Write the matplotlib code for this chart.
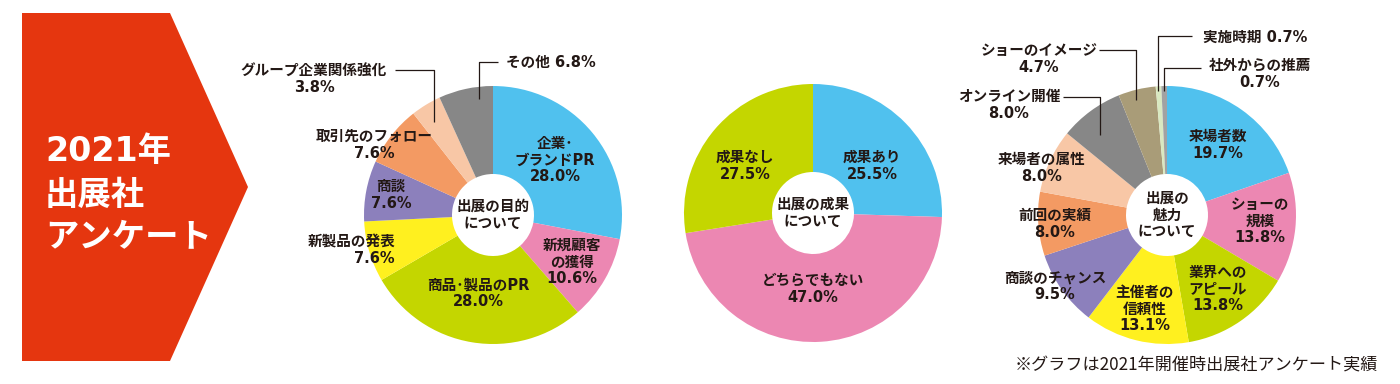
import matplotlib
matplotlib.use("Agg")
import matplotlib.pyplot as plt
from matplotlib.patches import Polygon

plt.rcParams['font.family'] = ['Noto Sans CJK JP', 'DejaVu Sans']
LABEL_FONT = ['DejaVu Sans', 'Noto Sans CJK JP']

# --- data -------------------------------------------------------------
purpose_labels = ['企業･\nブランドPR', '新規顧客\nの獲得', '商品･製品のPR', '新製品の発表',
                  '商談', '取引先のフォロー', 'グループ企業関係強化', 'その他']
purpose_values = [28.0, 10.6, 28.0, 7.6, 7.6, 7.6, 3.8, 6.8]

result_labels = ['成果あり', 'どちらでもない', '成果なし']
result_values = [25.5, 47.0, 27.5]

appeal_labels = ['来場者数', 'ショーの\n規模', '業界への\nアピール', '主催者の\n信頼性',
                 '商談のチャンス', '前回の実績', '来場者の属性', 'オンライン開催',
                 'ショーのイメージ', '実施時期', '社外からの推薦']
appeal_values = [19.7, 13.8, 13.8, 13.1, 9.5, 8.0, 8.0, 8.0, 4.7, 0.7, 0.7]

# --- colours ----------------------------------------------------------
BLUE, PINK, LIME, YEL = '#50C1EE', '#EC87B2', '#C4D600', '#FFF01F'
PURP, ORNG, PEACH, GRAY = '#8C80BC', '#F39A63', '#F8C7A6', '#878787'
TAN, PALE, GRAY2 = '#A99C78', '#D9E9C1', '#A2A2A2'
RED = '#E5360F'
INK = '#231815'

purpose_colors = [BLUE, PINK, LIME, YEL, PURP, ORNG, PEACH, GRAY]
result_colors = [BLUE, PINK, LIME]
appeal_colors = [BLUE, PINK, LIME, YEL, PURP, ORNG, PEACH, GRAY, TAN, PALE, GRAY2]

W, H = 1400, 384
fig = plt.figure(figsize=(14, 3.84), dpi=100)
ax = fig.add_axes([0, 0, 1, 1])


def Y(y):
    # pixel row (from top) -> data y
    return H - y


def donut(values, colors, cx, cy, R=129, r_in=41, title=''):
    ax.pie(values, colors=colors, startangle=90, counterclock=False,
           center=(cx, Y(cy)), radius=R,
           wedgeprops=dict(width=R - r_in, linewidth=0))
    ax.text(cx, Y(cy), title, ha='center', va='center', fontsize=10.5,
            fontweight='bold', color=INK, linespacing=1.15, family=LABEL_FONT)


def label(x, y, s, ha='center', ma=None, size=10.5):
    ax.text(x, Y(y), s, ha=ha, va='center', fontsize=size, fontweight='bold',
            color=INK, linespacing=1.15, family=LABEL_FONT,
            multialignment=ma or ha)


def leader(xs, ys):
    ax.plot(xs, [Y(v) for v in ys], color=INK, lw=0.9, solid_capstyle='butt')


# red arrow banner
ax.add_patch(Polygon([(22, Y(13)), (170, Y(13)), (248, Y(187)), (170, Y(361)), (22, Y(361))],
                     closed=True, facecolor=RED, edgecolor='none'))
for line, yy in zip(['2021年', '出展社', 'アンケート'], [152, 195, 237]):
    ax.text(45, Y(yy), line, ha='left', va='center', fontsize=24,
            fontweight='bold', color='white', family=LABEL_FONT)

# --- chart 1: 出展の目的 -------------------------------------------------
donut(purpose_values, purpose_colors, 493, 215, title='出展の目的\nについて')
pv = [f'{v:.1f}%' for v in purpose_values]
label(555, 160, purpose_labels[0] + '\n' + pv[0])
label(572, 262, purpose_labels[1] + '\n' + pv[1])
label(478, 293, purpose_labels[2] + '\n' + pv[2])
label(395, 250, purpose_labels[3] + '\n' + pv[3], ha='right')
label(391, 195, purpose_labels[4] + '\n' + pv[4])
label(374, 145, purpose_labels[5] + '\n' + pv[5])
label(314, 79, purpose_labels[6] + '\n' + pv[6])
label(506, 62, purpose_labels[7] + ' ' + pv[7], ha='left')
leader([395, 434, 434], [70, 70, 122])
leader([498, 479, 479], [62, 62, 99])

# --- chart 2: 出展の成果 -------------------------------------------------
donut(result_values, result_colors, 813, 213, title='出展の成果\nについて')
rv = [f'{v:.1f}%' for v in result_values]
label(872, 166, result_labels[0] + '\n' + rv[0])
label(813, 289, result_labels[1] + '\n' + rv[1])
label(745, 166, result_labels[2] + '\n' + rv[2])

# --- chart 3: 出展の魅力 -------------------------------------------------
donut(appeal_values, appeal_colors, 1167, 215, title='出展の\n魅力\nについて')
av = [f'{v:.1f}%' for v in appeal_values]
label(1218, 145, appeal_labels[0] + '\n' + av[0])
label(1260, 221, appeal_labels[1] + '\n' + av[1])
label(1218, 289, appeal_labels[2] + '\n' + av[2])
label(1145, 309, appeal_labels[3] + '\n' + av[3])
label(1055, 286, appeal_labels[4] + '\n' + av[4])
label(1055, 224, appeal_labels[5] + '\n' + av[5])
label(1042, 168, appeal_labels[6] + '\n' + av[6])
label(1009, 105, appeal_labels[7] + '\n' + av[7])
label(1039, 59, appeal_labels[8] + '\n' + av[8])
label(1203, 37, appeal_labels[9] + ' ' + av[9], ha='left')
label(1260, 74, appeal_labels[10] + '\n' + av[10])
leader([1063, 1100, 1100], [97, 97, 135])
leader([1099, 1136, 1136], [50, 50, 100])
leader([1192, 1158, 1158], [36, 36, 91])
leader([1201, 1164, 1164], [68, 68, 91])

ax.text(1378, Y(366), '※グラフは2021年開催時出展社アンケート実績', ha='right', va='center',
        fontsize=12.3, color=INK)

ax.set_xlim(0, W)
ax.set_ylim(0, H)
ax.set_aspect('equal')
ax.axis('off')
fig.savefig('out.png', dpi=100, facecolor='white')
